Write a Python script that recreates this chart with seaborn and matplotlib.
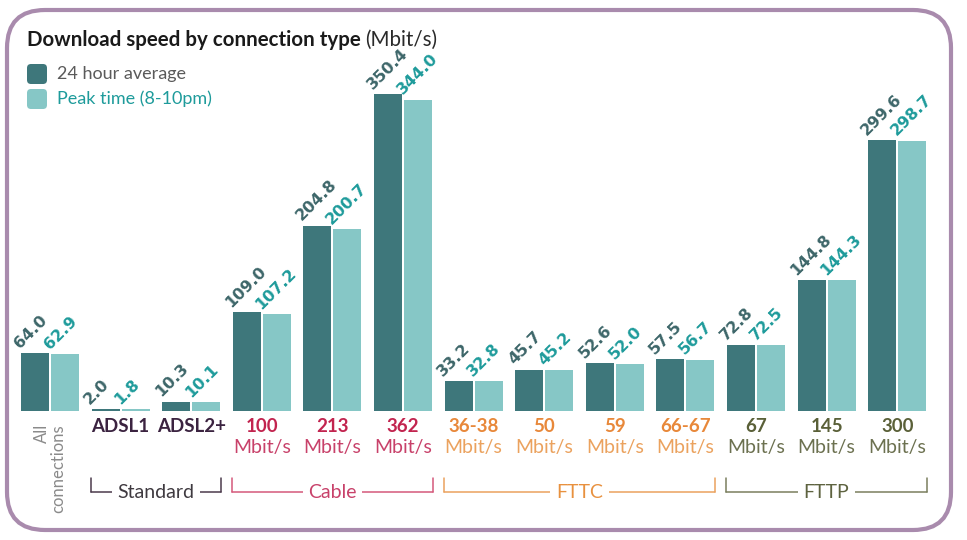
import matplotlib
matplotlib.use("Agg")
import matplotlib.pyplot as plt
from matplotlib.patches import FancyBboxPatch
from matplotlib.lines import Line2D
from matplotlib.transforms import ScaledTranslation
import seaborn as sns
import pandas as pd

categories = ["All connections", "ADSL1", "ADSL2+", "100", "213", "362",
              "36-38", "50", "59", "66-67", "67", "145", "300"]
avg_24h = [64.0, 2.0, 10.3, 109.0, 204.8, 350.4, 33.2, 45.7, 52.6, 57.5, 72.8, 144.8, 299.6]
peak = [62.9, 1.8, 10.1, 107.2, 200.7, 344.0, 32.8, 45.2, 52.0, 56.7, 72.5, 144.3, 298.7]
series_names = ["24 hour average", "Peak time (8-10pm)"]
group_names = ["Standard", "Cable", "FTTC", "FTTP"]
group_members = [["ADSL1", "ADSL2+"], ["100", "213", "362"],
                 ["36-38", "50", "59", "66-67"], ["67", "145", "300"]]

sns.set_theme(style="white")
FONT = ["Lato", "DejaVu Sans"]
plt.rcParams["font.family"] = FONT

DARK = "#3e777b"
LIGHT = "#86c7c6"
DARK_TXT = "#3d6669"
LIGHT_TXT = "#1e9b9b"
group_style = {
    "Standard": dict(num="#3b2340", unit="#3b2340", line="#4b3a4c", label="#3f3a40"),
    "Cable": dict(num="#c2244f", unit="#c8416a", line="#d4587b", label="#c8416a"),
    "FTTC": dict(num="#e8883a", unit="#eba25e", line="#eba25e", label="#e8913f"),
    "FTTP": dict(num="#5a6038", unit="#6c7150", line="#7a7f5e", label="#5e6340"),
}

W, H, DPI = 967, 540, 100
fig = plt.figure(figsize=(W / DPI, H / DPI), dpi=DPI)
fig.patch.set_facecolor("white")

# background axes in pixel coords
bg = fig.add_axes([0, 0, 1, 1], zorder=0)
bg.set_xlim(0, W)
bg.set_ylim(H, 0)
bg.axis("off")
bg.add_patch(FancyBboxPatch((7, 10), 944, 520, boxstyle="round,pad=0,rounding_size=38",
                            fc="white", ec="#a98bad", lw=3))

# main axes
base_px = 411
px_per_unit = 0.905
ymax = 380
ax_h = ymax * px_per_unit
left_px, right_px = 14.7, 932.5
ax = fig.add_axes([left_px / W, (H - base_px) / H, (right_px - left_px) / W, ax_h / H], zorder=1)
ax.patch.set_alpha(0)

df = pd.DataFrame({
    "cat": categories * 2,
    "val": avg_24h + peak,
    "series": [series_names[0]] * len(categories) + [series_names[1]] * len(categories),
})
sns.barplot(data=df, x="cat", y="val", hue="series", order=categories,
            hue_order=series_names, palette=[DARK, LIGHT], width=0.85, gap=0.07,
            linewidth=0, saturation=1, legend=False, ax=ax)
ax.set_xlim(-0.5, len(categories) - 0.5)
ax.set_ylim(0, ymax)
ax.set_xticks([])
ax.set_yticks([])
ax.set_xlabel("")
ax.set_ylabel("")
sns.despine(ax=ax, left=True, bottom=True)

# value labels
for cont, col in zip(ax.containers, [DARK_TXT, LIGHT_TXT]):
    for bar in cont:
        h = bar.get_height()
        ax.annotate(f"{h:.1f}", xy=(bar.get_x(), h), xytext=(0.5, 1.5), textcoords="offset points",
                    rotation=45, rotation_mode="anchor", ha="left", va="bottom",
                    fontsize=11.5, fontweight="bold", color=col, family=["DejaVu Sans"])

xt = ax.get_xaxis_transform()
def below(px):
    return xt + ScaledTranslation(0, -px / DPI, fig.dpi_scale_trans)

cat_group = {}
for g, mem in zip(group_names, group_members):
    for m in mem:
        cat_group[m] = g

for i, c in enumerate(categories):
    if c == "All connections":
        ax.text(i, 0, "All\nconnections", transform=below(13), rotation=90, ha="center", va="top",
                multialignment="right", fontsize=12, color="#8a8a8a", linespacing=1.05)
        continue
    st = group_style[cat_group[c]]
    ax.text(i, 0, c, transform=below(16), ha="center", va="center", fontsize=13.5,
            fontweight="bold", color=st["num"])
    if cat_group[c] != "Standard":
        ax.text(i, 0, "Mbit/s", transform=below(37), ha="center", va="center", fontsize=14,
                color=st["unit"])

# group brackets
for g, mem in zip(group_names, group_members):
    st = group_style[g]
    i0, i1 = categories.index(mem[0]), categories.index(mem[-1])
    x0, x1 = i0 - 0.425, i1 + 0.425
    tr = below(81)
    ax.add_line(Line2D([x0, x1], [0, 0], transform=tr, color=st["line"],
                       lw=1.1, clip_on=False))
    trv = below(67)
    for xv in (x0, x1):
        ax.add_line(Line2D([xv, xv], [0, -14 / ax_h], transform=trv, color=st["line"],
                           lw=1.1, clip_on=False))
    ax.text((x0 + x1) / 2, 0, g, transform=tr, ha="center", va="center", fontsize=14,
            color=st["label"], bbox=dict(fc="white", ec="none", pad=4))

# title
t1 = bg.text(27, 40, "Download speed by connection type", fontsize=14.8, fontweight="bold",
             color="#1a1a1a", va="center", ha="left")
fig.canvas.draw()
bb = t1.get_window_extent()
bg.text(bb.x1 + 4, 40, "(Mbit/s)", fontsize=14.8, color="#2a2a2a", va="center", ha="left")

# legend
for y, col, name, tc in [(64, DARK, series_names[0], "#5a5a5a"), (89, LIGHT, series_names[1], LIGHT_TXT)]:
    bg.add_patch(FancyBboxPatch((27, y), 20, 20, boxstyle="round,pad=0,rounding_size=4",
                                fc=col, ec="none"))
    bg.text(57, y + 10, name, fontsize=13, color=tc, va="center", ha="left")

fig.savefig("out.png", dpi=DPI, facecolor="white")
